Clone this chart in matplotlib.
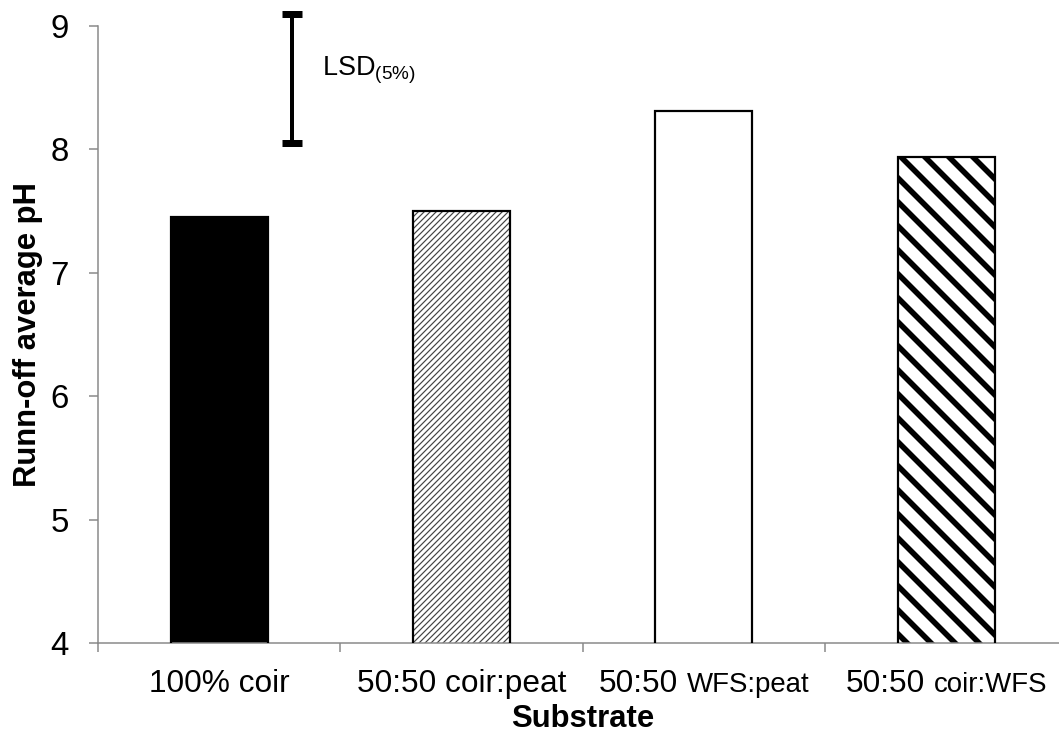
import matplotlib
matplotlib.use("Agg")
import matplotlib.pyplot as plt

plt.rcParams['font.family'] = ['Liberation Sans', 'DejaVu Sans']

# data
label_main = ['100% coir', '50:50 coir:peat', '50:50', '50:50']
label_small = ['', '', 'WFS:peat', 'coir:WFS']
ph_values = [7.45, 7.50, 8.31, 7.94]
lsd_low = 8.05
lsd_high = 9.10
lsd_x = 0.30

x = list(range(len(ph_values)))
axis_grey = '#888888'
DPI = 144

fig = plt.figure(figsize=(1059 / DPI, 742 / DPI), dpi=DPI)
ax = fig.add_axes([98 / 1059, 99 / 742, 969.5 / 1059, 617 / 742])

# bar fills / hatches
fills = ['black', 'white', 'white', 'white']
hatches = [None, '////////', None, '\\\\']
hatch_cols = ['black', '#444444', 'black', 'black']
hatch_lws = [1.0, 0.6, 1.0, 2.8]
for i in x:
    b = ax.bar(x[i], ph_values[i], width=0.40, color=fills[i],
               edgecolor=hatch_cols[i], linewidth=0, hatch=hatches[i], zorder=2)[0]
    if hasattr(b, 'set_hatch_linewidth'):
        b.set_hatch_linewidth(hatch_lws[i])
# outlines
ax.bar(x, ph_values, width=0.40, fill=False, edgecolor='black', linewidth=1.1, zorder=3)

# LSD bar
ax.errorbar([lsd_x], [(lsd_low + lsd_high) / 2], yerr=[(lsd_high - lsd_low) / 2],
            fmt='none', ecolor='black', elinewidth=2.0, capsize=5, capthick=3.5,
            clip_on=False, zorder=4)
ax.text(0.426, 8.60, r'LSD$_{\mathregular{(5\%)}}$', fontsize=13.5, va='baseline', ha='left')

ax.set_xlim(-0.5, 3.5)
ax.set_ylim(4, 9)
ax.set_yticks([4, 5, 6, 7, 8, 9])
ax.set_xticks([-0.5, 0.5, 1.5, 2.5, 3.5])
ax.set_xticklabels([])

for s in ['top', 'right']:
    ax.spines[s].set_visible(False)
for s in ['left', 'bottom']:
    ax.spines[s].set_color(axis_grey)
    ax.spines[s].set_linewidth(0.75)
ax.tick_params(axis='both', direction='out', length=4.5, width=0.75, color=axis_grey)
ax.tick_params(axis='y', labelsize=16.5, pad=10)

ax.set_ylabel('Runn-off average pH', fontsize=15.5, fontweight='bold', va='center')
ax.yaxis.set_label_coords(-0.072, 0.5)
ax.set_xlabel('Substrate', fontsize=15.5, fontweight='bold', va='center')
ax.xaxis.set_label_coords(0.5, -0.1235)

# category labels, second half of some in a smaller size, sharing one baseline
trans = ax.get_xaxis_transform()
fig.canvas.draw()
renderer = fig.canvas.get_renderer()
base = -24.5
gap = 4.4
for i in x:
    t1 = ax.annotate(label_main[i], xy=(x[i], 0), xycoords=trans, xytext=(0, base),
                     textcoords='offset points', ha='left', va='baseline', fontsize=15.8)
    w1 = t1.get_window_extent(renderer).width * 72 / DPI
    total = w1
    t2 = None
    if label_small[i]:
        t2 = ax.annotate(label_small[i], xy=(x[i], 0), xycoords=trans, xytext=(0, base),
                         textcoords='offset points', ha='left', va='baseline', fontsize=13.8)
        total += gap + t2.get_window_extent(renderer).width * 72 / DPI
    t1.set_position((-total / 2, base))
    if t2 is not None:
        t2.set_position((-total / 2 + w1 + gap, base))

fig.savefig('out.png', dpi=DPI)
